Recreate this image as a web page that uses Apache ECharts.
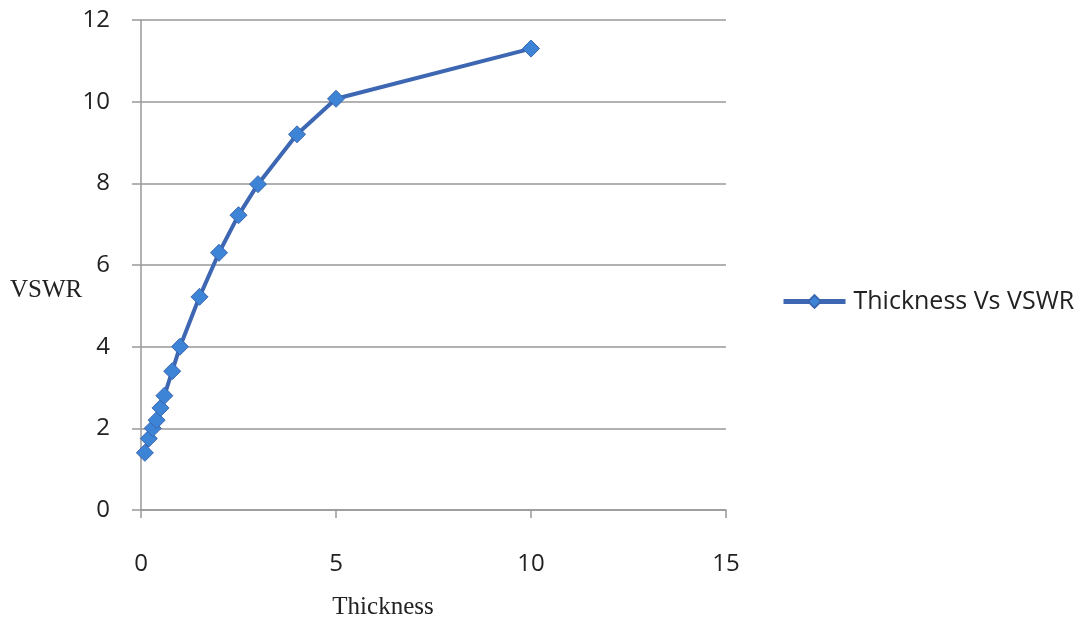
<!DOCTYPE html>
<html><head><meta charset="utf-8">
<script src="https://cdn.jsdelivr.net/npm/echarts@6/dist/echarts.min.js"></script>
<style>html,body{margin:0;padding:0;background:#fff}#c{width:1085px;height:626px}</style>
</head><body><div id="c"></div>
<script>
const thickness = [0.1, 0.2, 0.3, 0.4, 0.5, 0.6, 0.8, 1, 1.5, 2, 2.5, 3, 4, 5, 10];
const vswr = [1.4, 1.75, 2.0, 2.2, 2.5, 2.8, 3.4, 4.0, 5.22, 6.3, 7.22, 7.98, 9.2, 10.07, 11.3];
const seriesName = 'Thickness Vs VSWR';
const xTitle = 'Thickness';
const yTitle = 'VSWR';

const sans = '"Open Sans", sans-serif';

const chart = echarts.init(document.getElementById('c'), null, {renderer: 'canvas'});
chart.setOption({
  animation: false,
  backgroundColor: '#fff',
  grid: {left: 141, right: 1085 - 726, top: 20, bottom: 626 - 510},
  legend: {
    left: 776, top: 284,
    itemWidth: 62, itemHeight: 16, itemGap: 10,
    lineStyle: {width: 5},
    textStyle: {fontFamily: sans, fontSize: 25, color: '#222', padding: [0, 0, 0, 3]},
    data: [seriesName]
  },
  xAxis: {
    type: 'value', min: 0, max: 15, interval: 5,
    axisLine: {show: true, lineStyle: {color: '#999', width: 1.5}},
    axisTick: {show: true, length: 8, lineStyle: {color: '#999', width: 1.5}},
    axisLabel: {fontFamily: sans, fontSize: 24, color: '#222', margin: 42},
    splitLine: {show: false}
  },
  yAxis: {
    type: 'value', min: 0, max: 12, interval: 2,
    axisLine: {show: true, lineStyle: {color: '#999', width: 1.5}},
    axisTick: {show: true, length: 9, lineStyle: {color: '#999', width: 1.5}},
    axisLabel: {fontFamily: sans, fontSize: 24, color: '#222', margin: 31},
    splitLine: {show: true, lineStyle: {color: '#999', width: 1.5}}
  },
  graphic: [{
    type: 'text', x: 10, y: 290,
    style: {text: yTitle, font: '25px "Liberation Serif"', fill: '#222', align: 'left', verticalAlign: 'middle'}
  }, {
    type: 'text', x: 383, y: 607,
    style: {text: xTitle, font: '25px "Liberation Serif"', fill: '#222', align: 'center', verticalAlign: 'middle'}
  }],
  series: [{
    name: seriesName, type: 'line',
    data: thickness.map((x, i) => [x, vswr[i]]),
    symbol: 'diamond', symbolSize: 17,
    lineStyle: {color: '#3D67B2', width: 4},
    itemStyle: {color: '#3D84D6', borderColor: '#3A66B0', borderWidth: 1},
    z: 3
  }]
});
</script></body></html>
